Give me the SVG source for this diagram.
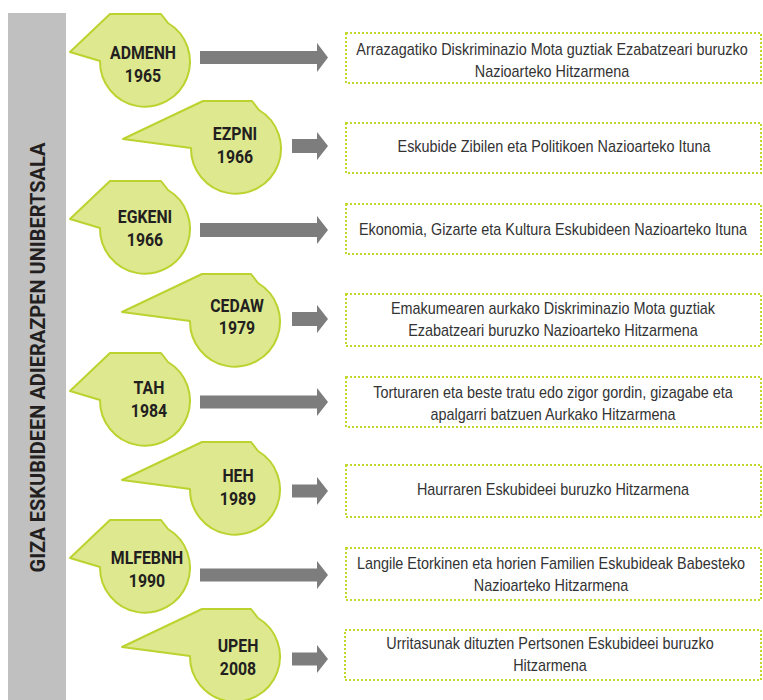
<svg xmlns="http://www.w3.org/2000/svg" width="763" height="700" viewBox="0 0 763 700">
<style>
.bubble{fill:#dde88f;stroke:#bcd32f;stroke-width:2;stroke-linejoin:round}
.bt{font-family:Roboto,"Liberation Sans",sans-serif;font-weight:700;font-size:18px;fill:#231f20;text-anchor:middle}
.box{fill:#ffffff;stroke:#c2d82c;stroke-width:2;stroke-dasharray:2 2}
.tt{font-family:"Liberation Sans",Arial,sans-serif;font-size:16px;fill:#333333;text-anchor:middle}
.arrow{fill:#7d7d7d}
.title{font-family:Roboto,"Liberation Sans",sans-serif;font-weight:700;font-size:20px;fill:#231f20;text-anchor:middle}
</style>
<defs>
<path id="bOdd" d="M -75,-9 L -35,-47 L 16,-47 L 23,-38 A 45 45 0 1 1 -45,0 Z"/>
<path id="bEven" d="M -113,-9 L -33,-47 L 16,-47 L 23,-38 A 45 45 0 1 1 -45,0 Z"/>
</defs>
<rect x="8" y="13" width="58" height="687" fill="#c0c0c0"/>
<text class="title" transform="translate(45,357.5) rotate(-90)">GIZA ESKUBIDEEN ADIERAZPEN UNIBERTSALA</text>

<g id="connectors">
<polygon class="arrow" points="200,51 317,51 317,43 328,57.5 317,72 317,64 200,64"/>
<polygon class="arrow" points="292,139 317,139 317,132 328,146 317,160 317,153 292,153"/>
<polygon class="arrow" points="200,223 317,223 317,216 328,230 317,244 317,237 200,237"/>
<polygon class="arrow" points="292,312 317,312 317,305 328,319 317,333 317,326 292,326"/>
<polygon class="arrow" points="200,395.5 317,395.5 317,388 328,402 317,416 317,408.5 200,408.5"/>
<polygon class="arrow" points="292,484.5 317,484.5 317,477 328,491 317,505 317,497.5 292,497.5"/>
<polygon class="arrow" points="200,568.5 317,568.5 317,561 328,575 317,589 317,581.5 200,581.5"/>
<polygon class="arrow" points="292,652.5 317,652.5 317,645 328,659 317,673 317,665.5 292,665.5"/>
</g>

<g id="ADMENH"><use href="#bOdd" class="bubble" x="145" y="61"/><g transform="matrix(0.88 0 0 1 143 0)"><text class="bt" x="0" y="59">ADMENH</text><text class="bt" x="0" y="82">1965</text></g></g>
<g id="EZPNI"><use href="#bEven" class="bubble" x="236" y="148"/><g transform="matrix(0.88 0 0 1 235 0)"><text class="bt" x="0" y="140">EZPNI</text><text class="bt" x="0" y="163">1966</text></g></g>
<g id="EGKENI"><use href="#bOdd" class="bubble" x="145" y="228"/><g transform="matrix(0.88 0 0 1 145 0)"><text class="bt" x="0" y="223">EGKENI</text><text class="bt" x="0" y="246">1966</text></g></g>
<g id="CEDAW"><use href="#bEven" class="bubble" x="235" y="321"/><g transform="matrix(0.88 0 0 1 237 0)"><text class="bt" x="0" y="312">CEDAW</text><text class="bt" x="0" y="334">1979</text></g></g>
<g id="TAH"><use href="#bOdd" class="bubble" x="145" y="400"/><g transform="matrix(0.88 0 0 1 149 0)"><text class="bt" x="0" y="394">TAH</text><text class="bt" x="0" y="417">1984</text></g></g>
<g id="HEH"><use href="#bEven" class="bubble" x="235" y="489"/><g transform="matrix(0.88 0 0 1 238 0)"><text class="bt" x="0" y="482">HEH</text><text class="bt" x="0" y="505">1989</text></g></g>
<g id="MLFEBNH"><use href="#bOdd" class="bubble" x="145" y="567"/><g transform="matrix(0.88 0 0 1 147 0)"><text class="bt" x="0" y="564">MLFEBNH</text><text class="bt" x="0" y="587">1990</text></g></g>
<g id="UPEH"><use href="#bEven" class="bubble" x="235" y="656"/><g transform="matrix(0.88 0 0 1 238 0)"><text class="bt" x="0" y="652">UPEH</text><text class="bt" x="0" y="675">2008</text></g></g>

<g id="box1"><rect class="box" x="346" y="33" width="415" height="50"/><g transform="matrix(0.9 0 0 1 552 0)"><text class="tt" x="0" y="55">Arrazagatiko Diskriminazio Mota guztiak Ezabatzeari buruzko</text><text class="tt" x="0" y="77">Nazioarteko Hitzarmena</text></g></g>
<g id="box2"><rect class="box" x="346" y="123" width="415" height="50"/><g transform="matrix(0.9 0 0 1 554 0)"><text class="tt" x="0" y="152">Eskubide Zibilen eta Politikoen Nazioarteko Ituna</text></g></g>
<g id="box3"><rect class="box" x="346" y="204" width="415" height="50"/><g transform="matrix(0.9 0 0 1 553 0)"><text class="tt" x="0" y="235">Ekonomia, Gizarte eta Kultura Eskubideen Nazioarteko Ituna</text></g></g>
<g id="box4"><rect class="box" x="346" y="294" width="415" height="52"/><g transform="matrix(0.9 0 0 1 553 0)"><text class="tt" x="0" y="314">Emakumearen aurkako Diskriminazio Mota guztiak</text><text class="tt" x="0" y="336">Ezabatzeari buruzko Nazioarteko Hitzarmena</text></g></g>
<g id="box5"><rect class="box" x="346" y="377" width="415" height="50"/><g transform="matrix(0.9 0 0 1 553 0)"><text class="tt" x="0" y="398">Torturaren eta beste tratu edo zigor gordin, gizagabe eta</text><text class="tt" x="0" y="420">apalgarri batzuen Aurkako Hitzarmena</text></g></g>
<g id="box6"><rect class="box" x="346" y="465" width="415" height="52"/><g transform="matrix(0.9 0 0 1 553 0)"><text class="tt" x="0" y="495">Haurraren Eskubideei buruzko Hitzarmena</text></g></g>
<g id="box7"><rect class="box" x="346" y="548" width="415" height="52"/><g transform="matrix(0.9 0 0 1 551 0)"><text class="tt" x="0" y="569">Langile Etorkinen eta horien Familien Eskubideak Babesteko</text><text class="tt" x="0" y="591">Nazioarteko Hitzarmena</text></g></g>
<g id="box8"><rect class="box" x="345" y="630" width="416" height="50"/><g transform="matrix(0.9 0 0 1 550 0)"><text class="tt" x="0" y="649">Urritasunak dituzten Pertsonen Eskubideei buruzko</text><text class="tt" x="0" y="671">Hitzarmena</text></g></g>
</svg>
